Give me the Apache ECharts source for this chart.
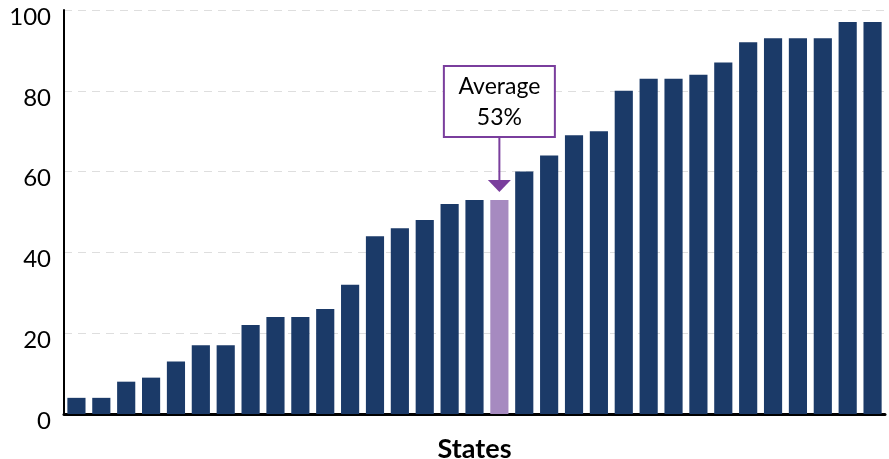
<!DOCTYPE html>
<html>
<head>
<meta charset="utf-8">
<script src="https://cdn.jsdelivr.net/npm/echarts@6/dist/echarts.min.js"></script>
<style>
  html, body { margin: 0; padding: 0; background: #fff; }
  #chart { width: 889px; height: 459px; }
</style>
</head>
<body>
<div id="chart"></div>
<script>
// Share per state, sorted ascending; one extra bar marks the national average
const stateValues = [4, 4, 8, 9, 13, 17, 17, 22, 24, 24, 26, 32, 44, 46, 48, 52, 53,
  53, 60, 64, 69, 70, 80, 83, 83, 84, 87, 92, 93, 93, 93, 97, 97];
const averageIndex = 17;
const averageValue = 53;
const categories = stateValues.map((_, i) => String(i + 1));
const yTicks = [0, 20, 40, 60, 80, 100];

const NAVY = '#1B3A68';
const LAVENDER = '#A68AC0';
const PURPLE = '#7A3E9D';
const FONT = 'Lato, "Open Sans", sans-serif';

const chart = echarts.init(document.getElementById('chart'));

chart.setOption({
  animation: false,
  grid: { left: 64, right: 4, top: 10, bottom: 45, containLabel: false, outerBoundsMode: 'none' },
  xAxis: {
    type: 'category',
    data: categories,
    name: 'States',
    nameLocation: 'middle',
    nameGap: 22,
    nameTextStyle: { fontFamily: FONT, fontSize: 27, fontWeight: 'bold', color: '#000' },
    axisLine: { lineStyle: { color: '#000', width: 3 } },
    axisTick: { show: false },
    axisLabel: { show: false }
  },
  yAxis: {
    type: 'value',
    min: yTicks[0],
    max: yTicks[yTicks.length - 1],
    interval: 20,
    axisLine: { show: true, lineStyle: { color: '#000', width: 2 } },
    axisTick: { show: false },
    axisLabel: {
      margin: 13,
      formatter: v => '{t|' + v + '}',
      rich: {
        // tick numbers sit slightly below their gridlines
        t: { fontFamily: FONT, fontSize: 24, color: '#000', padding: [14, 0, 0, 0] }
      }
    },
    splitLine: { lineStyle: { color: '#dedede', type: [8, 6], width: 1 } }
  },
  series: [{
    type: 'bar',
    barCategoryGap: '27%',
    data: stateValues.map((v, i) => ({
      value: i === averageIndex ? averageValue : v,
      itemStyle: { color: i === averageIndex ? LAVENDER : NAVY }
    }))
  }]
});

// Callout box with an arrow pointing down at the average bar
function drawCallout() {
  const tip = chart.convertToPixel({ seriesIndex: 0 }, [averageIndex, averageValue]);
  const x = tip[0];
  const barTop = tip[1];
  const arrowTip = barTop - 8;
  const headH = 12, headW = 23;
  const boxW = 111, boxH = 71;
  const boxBottom = arrowTip - headH - 43;
  const boxTop = boxBottom - boxH;

  chart.setOption({
    graphic: [
      {
        type: 'rect',
        shape: { x: x - boxW / 2, y: boxTop, width: boxW, height: boxH },
        style: { fill: '#fff', stroke: PURPLE, lineWidth: 2 },
        z: 10
      },
      {
        type: 'text',
        x: x, y: boxTop + boxH / 2 + 1,
        style: {
          text: 'Average\n53%',
          fontFamily: FONT, fontSize: 23, lineHeight: 31,
          fill: '#000', align: 'center', verticalAlign: 'middle'
        },
        z: 11
      },
      {
        type: 'line',
        shape: { x1: x, y1: boxBottom, x2: x, y2: arrowTip - headH + 1 },
        style: { stroke: PURPLE, lineWidth: 2 },
        z: 10
      },
      {
        type: 'polygon',
        shape: { points: [[x - headW / 2, arrowTip - headH], [x + headW / 2, arrowTip - headH], [x, arrowTip]] },
        style: { fill: PURPLE },
        z: 10
      }
    ]
  });
}
drawCallout();
</script>
</body>
</html>
